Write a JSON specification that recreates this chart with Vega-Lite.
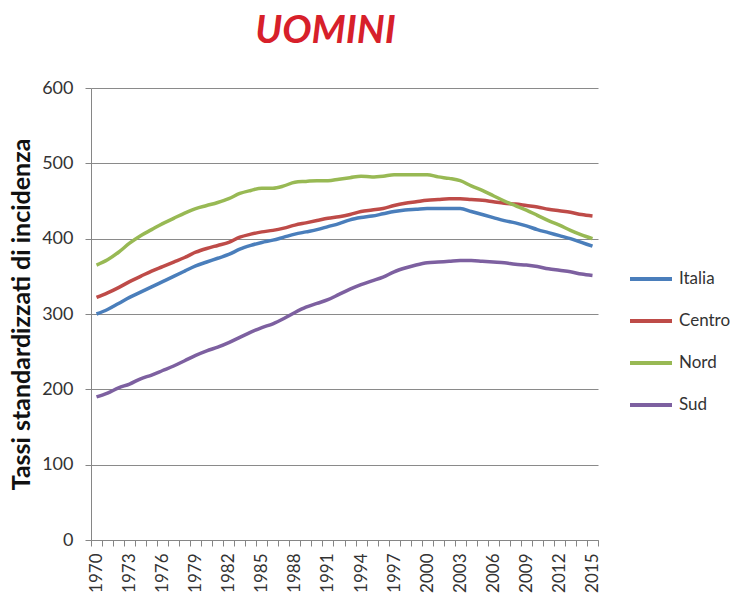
{
  "$schema": "https://vega.github.io/schema/vega-lite/v6.json",
  "width": 507,
  "height": 452,
  "autosize": {"type": "none"},
  "padding": {"left": 91, "top": 88, "right": 132, "bottom": 61},
  "background": "white",
  "config": {
    "font": "Lato",
    "view": {"stroke": null}
  },
  "title": {
    "text": "UOMINI",
    "anchor": "middle",
    "dx": -19,
    "offset": 28,
    "fontSize": 39,
    "fontWeight": "bold",
    "fontStyle": "italic",
    "color": "#d7202a",
    "font": "Lato"
  },
  "data": {
    "values": [
      {"anno": 1970, "area": "Italia", "tasso": 300}, {"anno": 1971, "area": "Italia", "tasso": 306}, {"anno": 1972, "area": "Italia", "tasso": 314}, {"anno": 1973, "area": "Italia", "tasso": 322}, {"anno": 1974, "area": "Italia", "tasso": 329}, {"anno": 1975, "area": "Italia", "tasso": 336}, {"anno": 1976, "area": "Italia", "tasso": 343}, {"anno": 1977, "area": "Italia", "tasso": 350}, {"anno": 1978, "area": "Italia", "tasso": 357}, {"anno": 1979, "area": "Italia", "tasso": 364}, {"anno": 1980, "area": "Italia", "tasso": 369}, {"anno": 1981, "area": "Italia", "tasso": 374}, {"anno": 1982, "area": "Italia", "tasso": 379}, {"anno": 1983, "area": "Italia", "tasso": 386}, {"anno": 1984, "area": "Italia", "tasso": 391}, {"anno": 1985, "area": "Italia", "tasso": 395}, {"anno": 1986, "area": "Italia", "tasso": 398}, {"anno": 1987, "area": "Italia", "tasso": 402}, {"anno": 1988, "area": "Italia", "tasso": 406}, {"anno": 1989, "area": "Italia", "tasso": 409}, {"anno": 1990, "area": "Italia", "tasso": 412}, {"anno": 1991, "area": "Italia", "tasso": 416}, {"anno": 1992, "area": "Italia", "tasso": 420}, {"anno": 1993, "area": "Italia", "tasso": 425}, {"anno": 1994, "area": "Italia", "tasso": 428}, {"anno": 1995, "area": "Italia", "tasso": 430}, {"anno": 1996, "area": "Italia", "tasso": 433}, {"anno": 1997, "area": "Italia", "tasso": 436}, {"anno": 1998, "area": "Italia", "tasso": 438}, {"anno": 1999, "area": "Italia", "tasso": 439}, {"anno": 2000, "area": "Italia", "tasso": 440}, {"anno": 2001, "area": "Italia", "tasso": 440}, {"anno": 2002, "area": "Italia", "tasso": 440}, {"anno": 2003, "area": "Italia", "tasso": 440}, {"anno": 2004, "area": "Italia", "tasso": 436}, {"anno": 2005, "area": "Italia", "tasso": 432}, {"anno": 2006, "area": "Italia", "tasso": 428}, {"anno": 2007, "area": "Italia", "tasso": 424}, {"anno": 2008, "area": "Italia", "tasso": 421}, {"anno": 2009, "area": "Italia", "tasso": 417}, {"anno": 2010, "area": "Italia", "tasso": 412}, {"anno": 2011, "area": "Italia", "tasso": 408}, {"anno": 2012, "area": "Italia", "tasso": 404}, {"anno": 2013, "area": "Italia", "tasso": 400}, {"anno": 2014, "area": "Italia", "tasso": 395}, {"anno": 2015, "area": "Italia", "tasso": 390},
      {"anno": 1970, "area": "Centro", "tasso": 322}, {"anno": 1971, "area": "Centro", "tasso": 328}, {"anno": 1972, "area": "Centro", "tasso": 335}, {"anno": 1973, "area": "Centro", "tasso": 343}, {"anno": 1974, "area": "Centro", "tasso": 350}, {"anno": 1975, "area": "Centro", "tasso": 357}, {"anno": 1976, "area": "Centro", "tasso": 363}, {"anno": 1977, "area": "Centro", "tasso": 369}, {"anno": 1978, "area": "Centro", "tasso": 375}, {"anno": 1979, "area": "Centro", "tasso": 382}, {"anno": 1980, "area": "Centro", "tasso": 387}, {"anno": 1981, "area": "Centro", "tasso": 391}, {"anno": 1982, "area": "Centro", "tasso": 395}, {"anno": 1983, "area": "Centro", "tasso": 402}, {"anno": 1984, "area": "Centro", "tasso": 406}, {"anno": 1985, "area": "Centro", "tasso": 409}, {"anno": 1986, "area": "Centro", "tasso": 411}, {"anno": 1987, "area": "Centro", "tasso": 414}, {"anno": 1988, "area": "Centro", "tasso": 418}, {"anno": 1989, "area": "Centro", "tasso": 421}, {"anno": 1990, "area": "Centro", "tasso": 424}, {"anno": 1991, "area": "Centro", "tasso": 427}, {"anno": 1992, "area": "Centro", "tasso": 429}, {"anno": 1993, "area": "Centro", "tasso": 432}, {"anno": 1994, "area": "Centro", "tasso": 436}, {"anno": 1995, "area": "Centro", "tasso": 438}, {"anno": 1996, "area": "Centro", "tasso": 440}, {"anno": 1997, "area": "Centro", "tasso": 444}, {"anno": 1998, "area": "Centro", "tasso": 447}, {"anno": 1999, "area": "Centro", "tasso": 449}, {"anno": 2000, "area": "Centro", "tasso": 451}, {"anno": 2001, "area": "Centro", "tasso": 452}, {"anno": 2002, "area": "Centro", "tasso": 453}, {"anno": 2003, "area": "Centro", "tasso": 453}, {"anno": 2004, "area": "Centro", "tasso": 452}, {"anno": 2005, "area": "Centro", "tasso": 451}, {"anno": 2006, "area": "Centro", "tasso": 449}, {"anno": 2007, "area": "Centro", "tasso": 447}, {"anno": 2008, "area": "Centro", "tasso": 446}, {"anno": 2009, "area": "Centro", "tasso": 444}, {"anno": 2010, "area": "Centro", "tasso": 442}, {"anno": 2011, "area": "Centro", "tasso": 439}, {"anno": 2012, "area": "Centro", "tasso": 437}, {"anno": 2013, "area": "Centro", "tasso": 435}, {"anno": 2014, "area": "Centro", "tasso": 432}, {"anno": 2015, "area": "Centro", "tasso": 430},
      {"anno": 1970, "area": "Nord", "tasso": 365}, {"anno": 1971, "area": "Nord", "tasso": 372}, {"anno": 1972, "area": "Nord", "tasso": 382}, {"anno": 1973, "area": "Nord", "tasso": 394}, {"anno": 1974, "area": "Nord", "tasso": 404}, {"anno": 1975, "area": "Nord", "tasso": 412}, {"anno": 1976, "area": "Nord", "tasso": 420}, {"anno": 1977, "area": "Nord", "tasso": 427}, {"anno": 1978, "area": "Nord", "tasso": 434}, {"anno": 1979, "area": "Nord", "tasso": 440}, {"anno": 1980, "area": "Nord", "tasso": 444}, {"anno": 1981, "area": "Nord", "tasso": 448}, {"anno": 1982, "area": "Nord", "tasso": 453}, {"anno": 1983, "area": "Nord", "tasso": 460}, {"anno": 1984, "area": "Nord", "tasso": 464}, {"anno": 1985, "area": "Nord", "tasso": 467}, {"anno": 1986, "area": "Nord", "tasso": 467}, {"anno": 1987, "area": "Nord", "tasso": 470}, {"anno": 1988, "area": "Nord", "tasso": 475}, {"anno": 1989, "area": "Nord", "tasso": 476}, {"anno": 1990, "area": "Nord", "tasso": 477}, {"anno": 1991, "area": "Nord", "tasso": 477}, {"anno": 1992, "area": "Nord", "tasso": 479}, {"anno": 1993, "area": "Nord", "tasso": 481}, {"anno": 1994, "area": "Nord", "tasso": 483}, {"anno": 1995, "area": "Nord", "tasso": 482}, {"anno": 1996, "area": "Nord", "tasso": 483}, {"anno": 1997, "area": "Nord", "tasso": 485}, {"anno": 1998, "area": "Nord", "tasso": 485}, {"anno": 1999, "area": "Nord", "tasso": 485}, {"anno": 2000, "area": "Nord", "tasso": 485}, {"anno": 2001, "area": "Nord", "tasso": 482}, {"anno": 2002, "area": "Nord", "tasso": 480}, {"anno": 2003, "area": "Nord", "tasso": 477}, {"anno": 2004, "area": "Nord", "tasso": 470}, {"anno": 2005, "area": "Nord", "tasso": 464}, {"anno": 2006, "area": "Nord", "tasso": 457}, {"anno": 2007, "area": "Nord", "tasso": 450}, {"anno": 2008, "area": "Nord", "tasso": 444}, {"anno": 2009, "area": "Nord", "tasso": 438}, {"anno": 2010, "area": "Nord", "tasso": 431}, {"anno": 2011, "area": "Nord", "tasso": 424}, {"anno": 2012, "area": "Nord", "tasso": 418}, {"anno": 2013, "area": "Nord", "tasso": 411}, {"anno": 2014, "area": "Nord", "tasso": 405}, {"anno": 2015, "area": "Nord", "tasso": 400},
      {"anno": 1970, "area": "Sud", "tasso": 190}, {"anno": 1971, "area": "Sud", "tasso": 195}, {"anno": 1972, "area": "Sud", "tasso": 202}, {"anno": 1973, "area": "Sud", "tasso": 207}, {"anno": 1974, "area": "Sud", "tasso": 214}, {"anno": 1975, "area": "Sud", "tasso": 219}, {"anno": 1976, "area": "Sud", "tasso": 225}, {"anno": 1977, "area": "Sud", "tasso": 231}, {"anno": 1978, "area": "Sud", "tasso": 238}, {"anno": 1979, "area": "Sud", "tasso": 245}, {"anno": 1980, "area": "Sud", "tasso": 251}, {"anno": 1981, "area": "Sud", "tasso": 256}, {"anno": 1982, "area": "Sud", "tasso": 262}, {"anno": 1983, "area": "Sud", "tasso": 269}, {"anno": 1984, "area": "Sud", "tasso": 276}, {"anno": 1985, "area": "Sud", "tasso": 282}, {"anno": 1986, "area": "Sud", "tasso": 287}, {"anno": 1987, "area": "Sud", "tasso": 294}, {"anno": 1988, "area": "Sud", "tasso": 302}, {"anno": 1989, "area": "Sud", "tasso": 309}, {"anno": 1990, "area": "Sud", "tasso": 314}, {"anno": 1991, "area": "Sud", "tasso": 319}, {"anno": 1992, "area": "Sud", "tasso": 326}, {"anno": 1993, "area": "Sud", "tasso": 333}, {"anno": 1994, "area": "Sud", "tasso": 339}, {"anno": 1995, "area": "Sud", "tasso": 344}, {"anno": 1996, "area": "Sud", "tasso": 349}, {"anno": 1997, "area": "Sud", "tasso": 356}, {"anno": 1998, "area": "Sud", "tasso": 361}, {"anno": 1999, "area": "Sud", "tasso": 365}, {"anno": 2000, "area": "Sud", "tasso": 368}, {"anno": 2001, "area": "Sud", "tasso": 369}, {"anno": 2002, "area": "Sud", "tasso": 370}, {"anno": 2003, "area": "Sud", "tasso": 371}, {"anno": 2004, "area": "Sud", "tasso": 371}, {"anno": 2005, "area": "Sud", "tasso": 370}, {"anno": 2006, "area": "Sud", "tasso": 369}, {"anno": 2007, "area": "Sud", "tasso": 368}, {"anno": 2008, "area": "Sud", "tasso": 366}, {"anno": 2009, "area": "Sud", "tasso": 365}, {"anno": 2010, "area": "Sud", "tasso": 363}, {"anno": 2011, "area": "Sud", "tasso": 360}, {"anno": 2012, "area": "Sud", "tasso": 358}, {"anno": 2013, "area": "Sud", "tasso": 356}, {"anno": 2014, "area": "Sud", "tasso": 353}, {"anno": 2015, "area": "Sud", "tasso": 351}
    ]
  },
  "mark": {"type": "line", "strokeWidth": 3.5, "interpolate": "monotone"},
  "encoding": {
    "x": {
      "field": "anno",
      "type": "ordinal",
      "scale": {"type": "band", "paddingInner": 0, "paddingOuter": 0},
      "axis": {
        "title": null,
        "labelAngle": -90,
        "labelExpr": "(datum.value - 1970) % 3 === 0 ? datum.label : ''",
        "labelFontSize": 17,
        "labelColor": "#333333",
        "labelPadding": 7,
        "tickBand": "extent",
        "tickSize": 6,
        "tickColor": "#868686",
        "domainColor": "#868686",
        "grid": false
      }
    },
    "y": {
      "field": "tasso",
      "type": "quantitative",
      "scale": {"domain": [0, 600], "nice": false},
      "axis": {
        "values": [0, 100, 200, 300, 400, 500, 600],
        "title": "Tassi standardizzati di incidenza",
        "titleFontSize": 25,
        "titleFontWeight": "bold",
        "titleColor": "#111111",
        "titlePadding": 7,
        "labelFontSize": 18,
        "labelColor": "#333333",
        "labelPadding": 12,
        "tickSize": 6,
        "tickColor": "#868686",
        "domainColor": "#868686",
        "gridColor": "#8a8a8a",
        "gridWidth": 1.2
      }
    },
    "color": {
      "field": "area",
      "type": "nominal",
      "sort": ["Italia", "Centro", "Nord", "Sud"],
      "scale": {
        "domain": ["Italia", "Centro", "Nord", "Sud"],
        "range": ["#4A7EBB", "#BE4B48", "#98B954", "#7D60A0"]
      },
      "legend": {
        "title": null,
        "orient": "none",
        "legendX": 537,
        "legendY": 168,
        "symbolType": "stroke",
        "symbolSize": 1764,
        "symbolStrokeWidth": 4,
        "labelFontSize": 17,
        "labelColor": "#333333",
        "rowPadding": 11,
        "labelOffset": 5
      }
    }
  }
}
